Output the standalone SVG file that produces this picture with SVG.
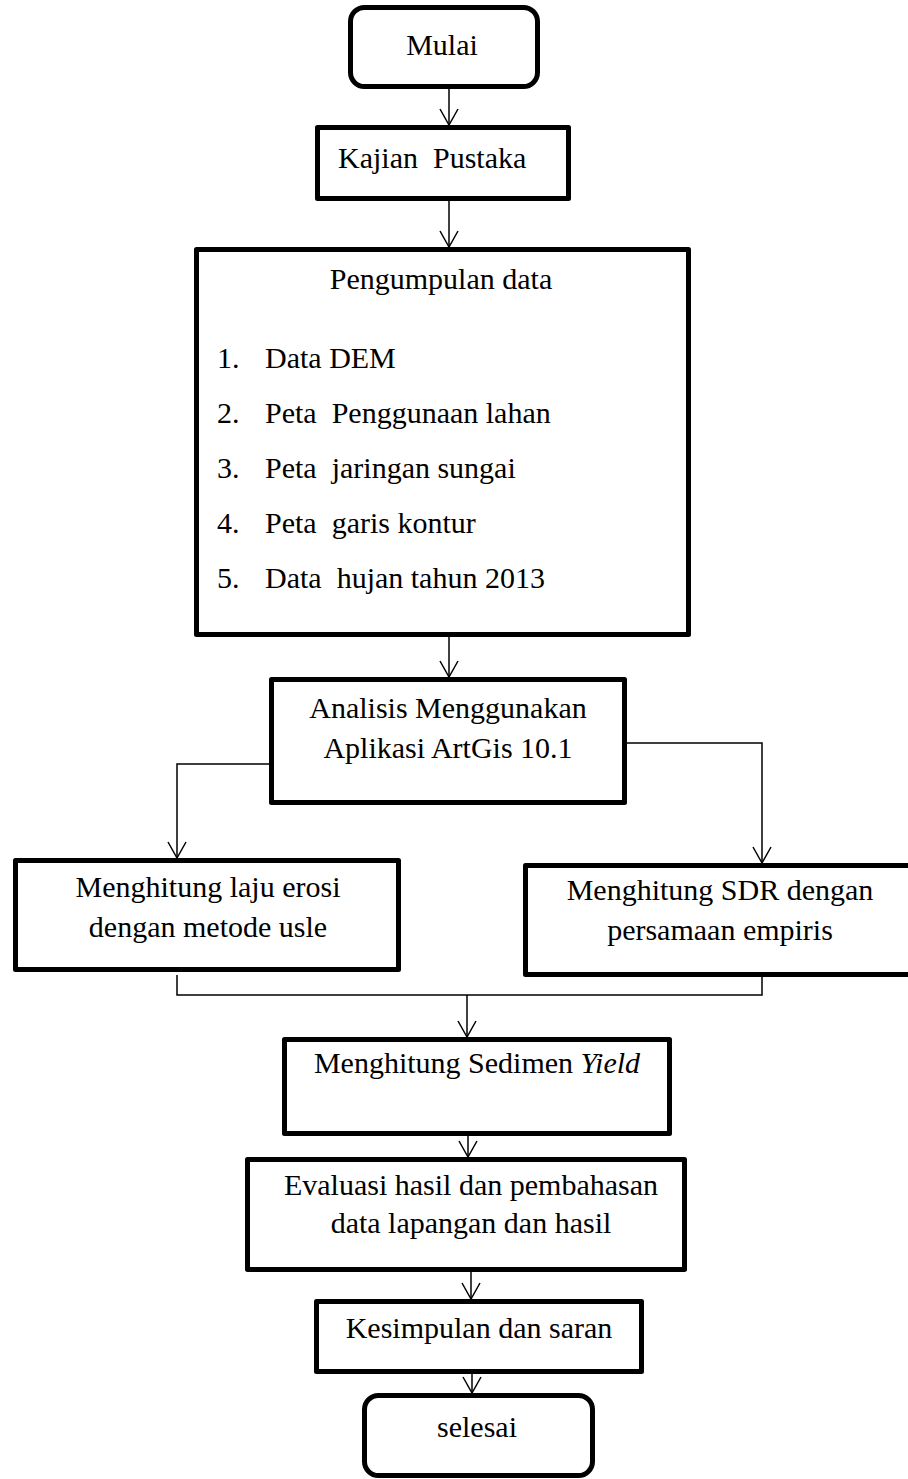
<svg xmlns="http://www.w3.org/2000/svg" width="908" height="1479" viewBox="0 0 908 1479">
<style>
.box{fill:#fff;stroke:#000;stroke-width:5;stroke-linejoin:round}
.t{font-family:"Liberation Serif","Times New Roman",serif;font-size:30px;fill:#000}
.c{text-anchor:middle}
.con{fill:none;stroke:#000;stroke-width:1.5}
</style>
<defs>
<marker id="arr" markerWidth="20" markerHeight="20" refX="16" refY="9" orient="auto" markerUnits="userSpaceOnUse" overflow="visible">
<path d="M0,0 L16,9 L0,18" fill="none" stroke="#000" stroke-width="1.5"/>
</marker>
</defs>
<rect width="908" height="1479" fill="#fff"/>
<g id="connectors">
<path class="con" d="M449,89 V125" marker-end="url(#arr)"/>
<path class="con" d="M449,201 V247" marker-end="url(#arr)"/>
<path class="con" d="M449,637 V677" marker-end="url(#arr)"/>
<path class="con" d="M269,764 H177 V858" marker-end="url(#arr)"/>
<path class="con" d="M627,743 H762 V863" marker-end="url(#arr)"/>
<path class="con" d="M177,975 V995 H762 V977"/>
<path class="con" d="M467,995 V1037" marker-end="url(#arr)"/>
<path class="con" d="M468,1136 V1157" marker-end="url(#arr)"/>
<path class="con" d="M471,1272 V1299" marker-end="url(#arr)"/>
<path class="con" d="M472,1374 V1393" marker-end="url(#arr)"/>
</g>
<g id="mulai">
<rect class="box" x="350.5" y="7.5" width="187" height="79" rx="14"/>
<text class="t c" x="442" y="55">Mulai</text>
</g>
<g id="kajian">
<rect class="box" x="317.5" y="127.5" width="251" height="71"/>
<text class="t" x="338" y="168" xml:space="preserve">Kajian  Pustaka</text>
</g>
<g id="pengumpulan">
<rect class="box" x="196.5" y="249.5" width="492" height="385"/>
<text class="t c" x="441" y="289">Pengumpulan data</text>
<text class="t" x="217" y="368">1.</text>
<text class="t" x="265" y="368">Data DEM</text>
<text class="t" x="217" y="423">2.</text>
<text class="t" x="265" y="423" xml:space="preserve">Peta  Penggunaan lahan</text>
<text class="t" x="217" y="478">3.</text>
<text class="t" x="265" y="478" xml:space="preserve">Peta  jaringan sungai</text>
<text class="t" x="217" y="533">4.</text>
<text class="t" x="265" y="533" xml:space="preserve">Peta  garis kontur</text>
<text class="t" x="217" y="588">5.</text>
<text class="t" x="265" y="588" xml:space="preserve">Data  hujan tahun 2013</text>
</g>
<g id="analisis">
<rect class="box" x="271.5" y="679.5" width="353" height="123"/>
<text class="t c" x="448" y="718">Analisis Menggunakan</text>
<text class="t c" x="448" y="758">Aplikasi ArtGis 10.1</text>
</g>
<g id="laju-erosi">
<rect class="box" x="15.5" y="860.5" width="383" height="109"/>
<text class="t c" x="208" y="897">Menghitung laju erosi</text>
<text class="t c" x="208" y="937">dengan metode usle</text>
</g>
<g id="sdr">
<rect class="box" x="525.5" y="865.5" width="400" height="109"/>
<text class="t c" x="720" y="900">Menghitung SDR dengan</text>
<text class="t c" x="720" y="940">persamaan empiris</text>
</g>
<g id="sedimen">
<rect class="box" x="284.5" y="1039.5" width="385" height="94"/>
<text class="t c" x="477" y="1073">Menghitung Sedimen <tspan font-style="italic">Yield</tspan></text>
</g>
<g id="evaluasi">
<rect class="box" x="247.5" y="1159.5" width="437" height="110"/>
<text class="t c" x="471" y="1195">Evaluasi hasil dan pembahasan</text>
<text class="t c" x="471" y="1233">data lapangan dan hasil</text>
</g>
<g id="kesimpulan">
<rect class="box" x="316.5" y="1301.5" width="325" height="70"/>
<text class="t c" x="479" y="1338">Kesimpulan dan saran</text>
</g>
<g id="selesai">
<rect class="box" x="364.5" y="1395.5" width="228" height="80" rx="14"/>
<text class="t c" x="477" y="1437">selesai</text>
</g>
</svg>
